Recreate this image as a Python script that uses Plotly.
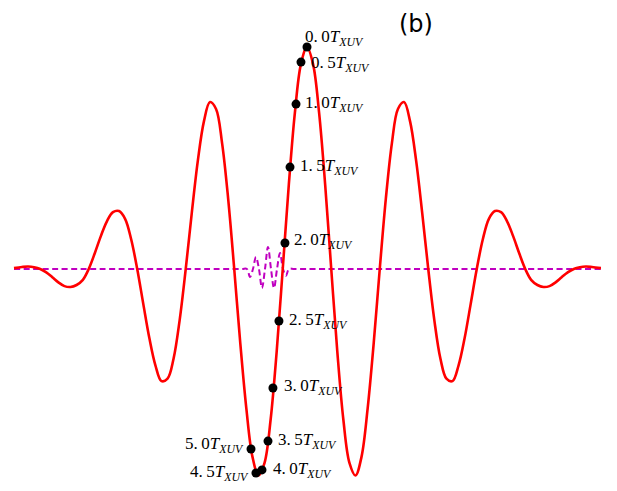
import plotly.graph_objects as go

# ---- data (time in IR laser cycles, field normalised to IR peak) ----
ir_t = [-3.02, -2.9375, -2.875, -2.8125, -2.75, -2.6875, -2.625, -2.5625, -2.5, -2.4375,
        -2.375, -2.3125, -2.25, -2.1875, -2.125, -2.0625, -2.0, -1.9375, -1.875, -1.8125,
        -1.75, -1.6875, -1.625, -1.5625, -1.5, -1.4375, -1.375, -1.3125, -1.25, -1.1875,
        -1.125, -1.0625, -1.0, -0.9375, -0.875, -0.8125, -0.75, -0.6875, -0.625, -0.5625,
        -0.5, -0.4375, -0.375, -0.3125, -0.25, -0.1875, -0.125, -0.0625, 0.0,
        0.0625, 0.125, 0.1875, 0.25, 0.3125, 0.375, 0.4375, 0.5,
        0.5625, 0.625, 0.6875, 0.75, 0.8125, 0.875, 0.9375, 1.0,
        1.0625, 1.125, 1.1875, 1.25, 1.3125, 1.375, 1.4375, 1.5,
        1.5625, 1.625, 1.6875, 1.75, 1.8125, 1.875, 1.9375, 2.0,
        2.0625, 2.125, 2.1875, 2.25, 2.3125, 2.375, 2.4375, 2.5,
        2.5625, 2.625, 2.6875, 2.75, 2.8125, 2.875, 2.9375, 3.03]
ir_E = [0.004, 0.009, 0.011, 0.008, 0.0, -0.015, -0.037, -0.060, -0.077, -0.081,
        -0.072, -0.050, 0.0, 0.071, 0.148, 0.215, 0.256, 0.261, 0.226, 0.134,
        0.0, -0.157, -0.311, -0.434, -0.505, -0.494, -0.403, -0.230, 0.0, 0.253,
        0.488, 0.665, 0.752, 0.721, 0.566, 0.316, 0.0, -0.335, -0.629, -0.845,
        -0.93, -0.873, -0.679, -0.372, 0.0, 0.379, 0.703, 0.923, 1.0,
        0.923, 0.703, 0.379, 0.0, -0.372, -0.679, -0.873, -0.93,
        -0.845, -0.629, -0.335, 0.0, 0.316, 0.566, 0.721, 0.752,
        0.665, 0.488, 0.253, 0.0, -0.230, -0.403, -0.494, -0.505,
        -0.434, -0.311, -0.157, 0.0, 0.134, 0.226, 0.261, 0.256,
        0.215, 0.148, 0.071, 0.0, -0.050, -0.072, -0.081, -0.077,
        -0.060, -0.037, -0.015, 0.0, 0.008, 0.011, 0.009, 0.004]

xuv_t = [-3.02, -0.680, -0.619, -0.588, -0.557, -0.526, -0.495, -0.464, -0.433,
         -0.402, -0.371, -0.340, -0.309, -0.278, -0.247, -0.216, -0.186, -0.124, 3.03]
xuv_E = [0.0, 0.0, 0.0, -0.036, 0.0, 0.054, 0.0, -0.086, 0.0,
         0.099, 0.0, -0.086, 0.0, 0.072, 0.0, -0.030, 0.0, 0.0, 0.0]

dot_t = [0.0, -0.062, -0.113, -0.175, -0.227, -0.289, -0.351, -0.402, -0.464, -0.526, -0.577]
dot_E = [1.0, 0.932, 0.743, 0.459, 0.117, -0.234, -0.536, -0.775, -0.905, -0.919, -0.811]
dot_labels = ["0.0", "0.5", "1.0", "1.5", "2.0", "2.5", "3.0", "3.5", "4.0", "4.5", "5.0"]

# ---- label placement (style) ----
label_style = {
    "0.0": dict(xanchor="left", xshift=-4, yshift=9),
    "0.5": dict(xanchor="left", xshift=8, yshift=-2),
    "1.0": dict(xanchor="left", xshift=7, yshift=0),
    "1.5": dict(xanchor="left", xshift=8, yshift=0),
    "2.0": dict(xanchor="left", xshift=7, yshift=2),
    "2.5": dict(xanchor="left", xshift=8, yshift=0),
    "3.0": dict(xanchor="left", xshift=9, yshift=1),
    "3.5": dict(xanchor="left", xshift=8, yshift=0),
    "4.0": dict(xanchor="left", xshift=9, yshift=0),
    "4.5": dict(xanchor="right", xshift=-5, yshift=0),
    "5.0": dict(xanchor="right", xshift=-5, yshift=4),
}

fig = go.Figure()
fig.add_trace(go.Scatter(x=xuv_t, y=xuv_E, mode="lines",
                         line=dict(color="#c000c0", width=2, dash="6px,3.5px",
                                   shape="spline", smoothing=1.0),
                         hoverinfo="skip", showlegend=False))
fig.add_trace(go.Scatter(x=ir_t, y=ir_E, mode="lines",
                         line=dict(color="#ff0000", width=2.6, shape="spline", smoothing=1.0),
                         hoverinfo="skip", showlegend=False))
fig.add_trace(go.Scatter(x=dot_t, y=dot_E, mode="markers",
                         marker=dict(color="black", size=9),
                         hoverinfo="skip", showlegend=False))

annotations = []
for t, e, lab in zip(dot_t, dot_E, dot_labels):
    st = label_style[lab]
    shown = lab.replace(".", ".\u2009")
    annotations.append(dict(
        x=t, y=e, xref="x", yref="y", showarrow=False,
        text=f"{shown}<i>T</i><sub><i>XUV</i></sub>",
        font=dict(family="Liberation Serif, DejaVu Serif, serif", size=17, color="black"),
        yanchor="middle", **st))

annotations.append(dict(x=0.661, y=0.967, xref="paper", yref="paper", showarrow=False,
                        text="(b)", xanchor="center", yanchor="middle",
                        font=dict(family="DejaVu Sans, sans-serif", size=24, color="black")))

fig.update_layout(
    width=617, height=491,
    margin=dict(l=0, r=0, t=0, b=0),
    paper_bgcolor="white", plot_bgcolor="white",
    xaxis=dict(range=[-3.082, 3.278], visible=False),
    yaxis=dict(range=[-1.036, 1.1757], visible=False),
    annotations=annotations,
)

fig.write_html("out.html")
